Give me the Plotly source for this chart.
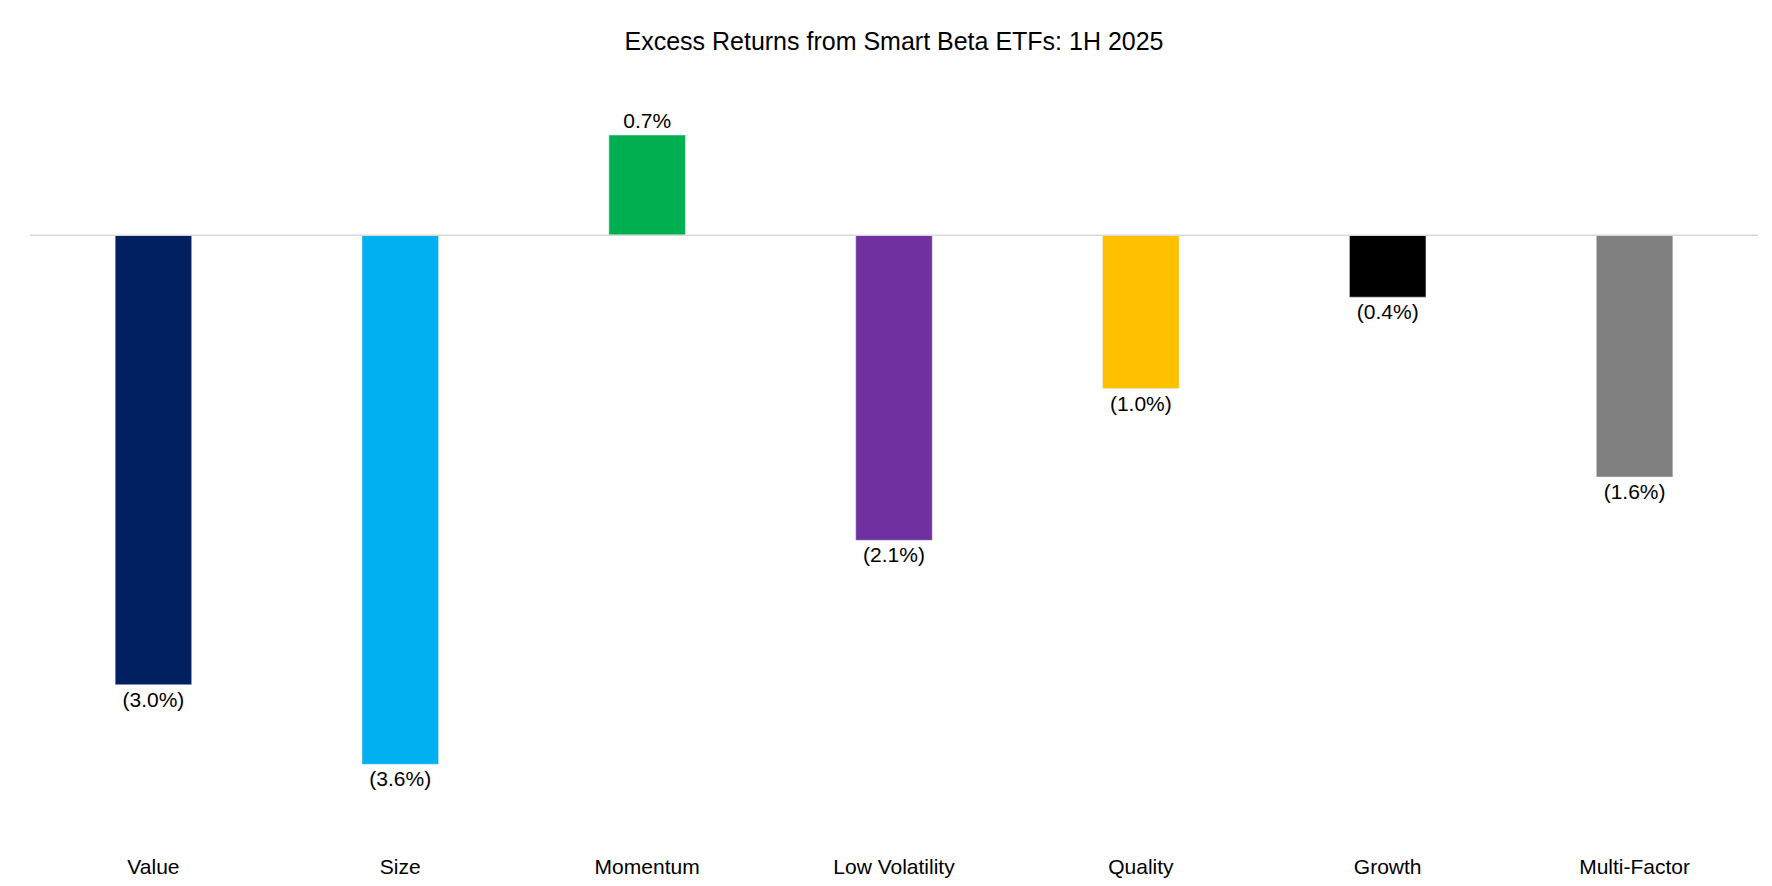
import plotly.graph_objects as go

categories = ["Value", "Size", "Momentum", "Low Volatility", "Quality", "Growth", "Multi-Factor"]
excess_returns = [-3.05, -3.59, 0.68, -2.07, -1.04, -0.42, -1.64]
bar_colors = ["#002060", "#00B0F0", "#00B050", "#7030A0", "#FFC000", "#000000", "#808080"]


def fmt(v):
    return f"{v:.1f}%" if v >= 0 else f"({abs(v):.1f}%)"


fig = go.Figure()
fig.add_trace(
    go.Bar(
        x=categories,
        y=excess_returns,
        marker_color=bar_colors,
        text=[fmt(v) for v in excess_returns],
        textposition="outside",
        textfont=dict(size=21, color="black"),
        cliponaxis=False,
    )
)

fig.update_layout(
    title=dict(text="Excess Returns from Smart Beta ETFs: 1H 2025", x=0.5, y=0.962,
               xanchor="center", yanchor="middle", font=dict(size=25, color="black")),
    font=dict(family="Liberation Sans, Arial, sans-serif", color="black"),
    plot_bgcolor="white",
    paper_bgcolor="white",
    width=1772,
    height=886,
    margin=dict(l=22, r=22, t=102, b=84),
    bargap=0.69,
    showlegend=False,
    xaxis=dict(showline=False, ticks="", tickfont=dict(size=21), ticklabelstandoff=42),
    yaxis=dict(range=[-3.9, 0.85], visible=False, zeroline=True),
)
fig.add_hline(y=0, line_color="#D9D9D9", line_width=1.5)

fig.write_html("out.html")
